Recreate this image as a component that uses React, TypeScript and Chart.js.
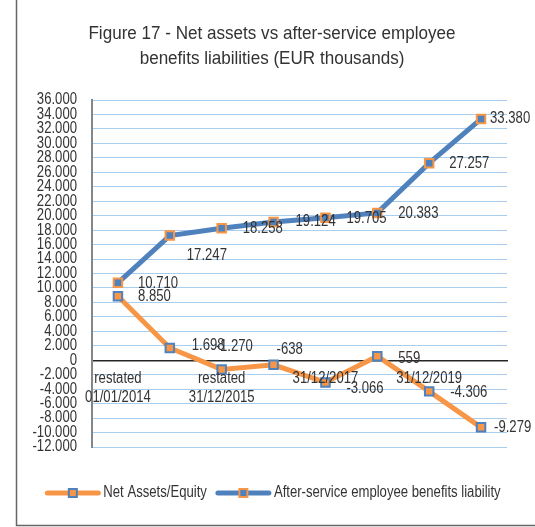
import React, { useEffect, useRef } from "react";
import { Chart, registerables } from "chart.js";

Chart.register(...registerables);

// ---- data ----
const categories: (string | string[])[] = [
  ["restated", "01/01/2014"],
  "31/12/2014",
  ["restated", "31/12/2015"],
  "31/12/2016",
  "31/12/2017",
  "31/12/2018",
  "31/12/2019",
  "31/12/2020",
];
const netAssets = [8850, 1698, -1270, -638, -3066, 559, -4306, -9279];
const liability = [10710, 17247, 18258, 19124, 19705, 20383, 27257, 33380];
const seriesNames = ["Net Assets/Equity", "After-service employee benefits liability"];
const titleLines = [
  "Figure 17 - Net assets vs after-service employee",
  "benefits liabilities (EUR thousands)",
];
const yMin = -12000;
const yMax = 36000;
const yStep = 2000;

// ---- style ----
const FONT = "'Liberation Sans', Arial, sans-serif";
const NARROW = 0.82; // horizontal squeeze to mimic Arial Narrow
const TITLE_NARROW = 0.915;
const ORANGE = "#F79646";
const BLUE = "#4F81BD";
const TEXT = "#333333";
// per-point label offsets [dx, dy] (text left edge / vertical middle relative to point)
const netOffsets = [[20, 0], [22, -2], [-6, -23], [3, -15], [21, 6], [21, 2], [21, 1], [13, 0]];
const liabOffsets = [[20, 1], [17, 20], [21, 0], [22, 0], [21, 1], [21, 1], [20, 0], [9, 0]];

function fmt(n: number): string {
  const s = Math.abs(Math.round(n)).toString();
  const parts: string[] = [];
  for (let i = s.length; i > 0; i -= 3) parts.unshift(s.substring(Math.max(0, i - 3), i));
  return (n < 0 ? "-" : "") + parts.join(".");
}

function narrowText(
  ctx: CanvasRenderingContext2D,
  text: string,
  x: number,
  y: number,
  size: number,
  align: CanvasTextAlign = "left",
  baseline: CanvasTextBaseline = "middle",
  squeeze: number = NARROW
) {
  ctx.save();
  ctx.font = `${size}px ${FONT}`;
  ctx.fillStyle = TEXT;
  ctx.textAlign = align;
  ctx.textBaseline = baseline;
  ctx.translate(x, y);
  ctx.scale(squeeze, 1);
  ctx.fillText(text, 0, 0);
  ctx.restore();
}

function narrowWidth(ctx: CanvasRenderingContext2D, text: string, size: number) {
  ctx.save();
  ctx.font = `${size}px ${FONT}`;
  const w = ctx.measureText(text).width * NARROW;
  ctx.restore();
  return w;
}

const axisLabelPlugin = {
  id: "axisLabels",
  afterDraw(chart: any) {
    const ctx = chart.ctx as CanvasRenderingContext2D;
    const ys = chart.scales.y;
    const xs = chart.scales.x;
    // y tick labels
    ys.ticks.forEach((t: any, i: number) => {
      narrowText(ctx, fmt(t.value), ys.right - 15, ys.getPixelForTick(i), 16, "right");
    });
    // x tick labels (every other category, as in the original)
    const zeroY = ys.getPixelForValue(0);
    categories.forEach((c, i) => {
      if (i % 2 !== 0) return;
      const lines = Array.isArray(c) ? c : [c];
      const px = xs.getPixelForValue(i);
      lines.forEach((ln, k) => narrowText(ctx, ln, px, zeroY + 18 + k * 19, 16, "center"));
    });
  },
};

const decorPlugin = {
  id: "decor",
  afterDraw(chart: any) {
    const ctx = chart.ctx as CanvasRenderingContext2D;
    ctx.save();
    // frame
    ctx.strokeStyle = "#666666";
    ctx.lineWidth = 1.5;
    ctx.beginPath();
    ctx.moveTo(16.5, 0);
    ctx.lineTo(16.5, 525.5);
    ctx.lineTo(535, 525.5);
    ctx.stroke();
    ctx.restore();
    // title
    const cx = 272;
    titleLines.forEach((t, i) =>
      narrowText(ctx, t, cx, 39 + i * 24.5, 18.67, "center", "alphabetic", TITLE_NARROW)
    );
    // legend
    const items = [
      { name: seriesNames[0], line: ORANGE, fill: ORANGE, border: BLUE },
      { name: seriesNames[1], line: BLUE, fill: BLUE, border: ORANGE },
    ];
    const lineLen = 55, gapText = 3, gapItem = 9;
    const widths = items.map((it) => narrowWidth(ctx, it.name, 16));
    const total = items.reduce((a, _, i) => a + lineLen + gapText + widths[i], 0) + gapItem;
    let x = 273 - total / 2;
    const y = 493;
    items.forEach((it, i) => {
      ctx.save();
      ctx.strokeStyle = it.line;
      ctx.lineWidth = 5;
      ctx.lineCap = "round";
      ctx.beginPath();
      ctx.moveTo(x + 2, y);
      ctx.lineTo(x + lineLen - 2, y);
      ctx.stroke();
      const mx = x + lineLen / 2;
      ctx.fillStyle = it.fill;
      ctx.fillRect(mx - 4, y - 4, 8, 8);
      ctx.strokeStyle = it.border;
      ctx.lineWidth = 2;
      ctx.lineCap = "butt";
      ctx.strokeRect(mx - 4, y - 4, 8, 8);
      ctx.restore();
      narrowText(ctx, it.name, x + lineLen + gapText, y, 16, "left");
      x += lineLen + gapText + widths[i] + gapItem;
    });
  },
};

const labelPlugin = {
  id: "valueLabels",
  afterDatasetsDraw(chart: any) {
    const ctx = chart.ctx as CanvasRenderingContext2D;
    const offs = [netOffsets, liabOffsets];
    chart.data.datasets.forEach((ds: any, di: number) => {
      const meta = chart.getDatasetMeta(di);
      meta.data.forEach((pt: any, i: number) => {
        const [dx, dy] = offs[di][i];
        narrowText(ctx, fmt(ds.data[i]), pt.x + dx, pt.y + dy, 16, "left");
      });
    });
  },
};

export default function App() {
  const ref = useRef<HTMLCanvasElement>(null);
  useEffect(() => {
    if (!ref.current) return;
    const chart = new Chart(ref.current, {
      type: "line",
      data: {
        labels: categories as any,
        datasets: [
          {
            label: seriesNames[0],
            data: netAssets,
            borderColor: ORANGE,
            backgroundColor: ORANGE,
            borderWidth: 5,
            pointStyle: "rect",
            pointRadius: 6,
            pointBorderWidth: 2,
            pointBackgroundColor: ORANGE,
            pointBorderColor: BLUE,
            tension: 0,
          },
          {
            label: seriesNames[1],
            data: liability,
            borderColor: BLUE,
            backgroundColor: BLUE,
            borderWidth: 5,
            pointStyle: "rect",
            pointRadius: 6,
            pointBorderWidth: 2,
            pointBackgroundColor: BLUE,
            pointBorderColor: ORANGE,
            tension: 0,
          },
        ],
      },
      options: {
        responsive: false,
        animation: false,
        devicePixelRatio: 1,
        layout: { padding: { top: 100, bottom: 80, left: 0, right: 28 } },
        plugins: { legend: { display: false }, title: { display: false }, tooltip: { enabled: false } },
        scales: {
          x: {
            type: "category",
            position: { y: 0 } as any,
            offset: true,
            grid: { display: false, drawTicks: false },
            border: { display: true, color: "#262626", width: 1.5 },
            ticks: { display: false },
          },
          y: {
            min: yMin,
            max: yMax,
            afterFit: (s: any) => {
              s.width = 92;
            },
            grid: { color: "#A9CDEF", lineWidth: 1, drawTicks: false },
            border: { display: true, color: "#868686", width: 2 },
            ticks: { stepSize: yStep, autoSkip: false, display: false },
          },
        },
      },
      plugins: [labelPlugin, axisLabelPlugin, decorPlugin],
    });
    return () => chart.destroy();
  }, []);
  return (
    <div style={{ position: "absolute", left: 0, top: 0, width: 535, height: 527, background: "#fff" }}>
      <canvas ref={ref} width={535} height={527} />
    </div>
  );
}
